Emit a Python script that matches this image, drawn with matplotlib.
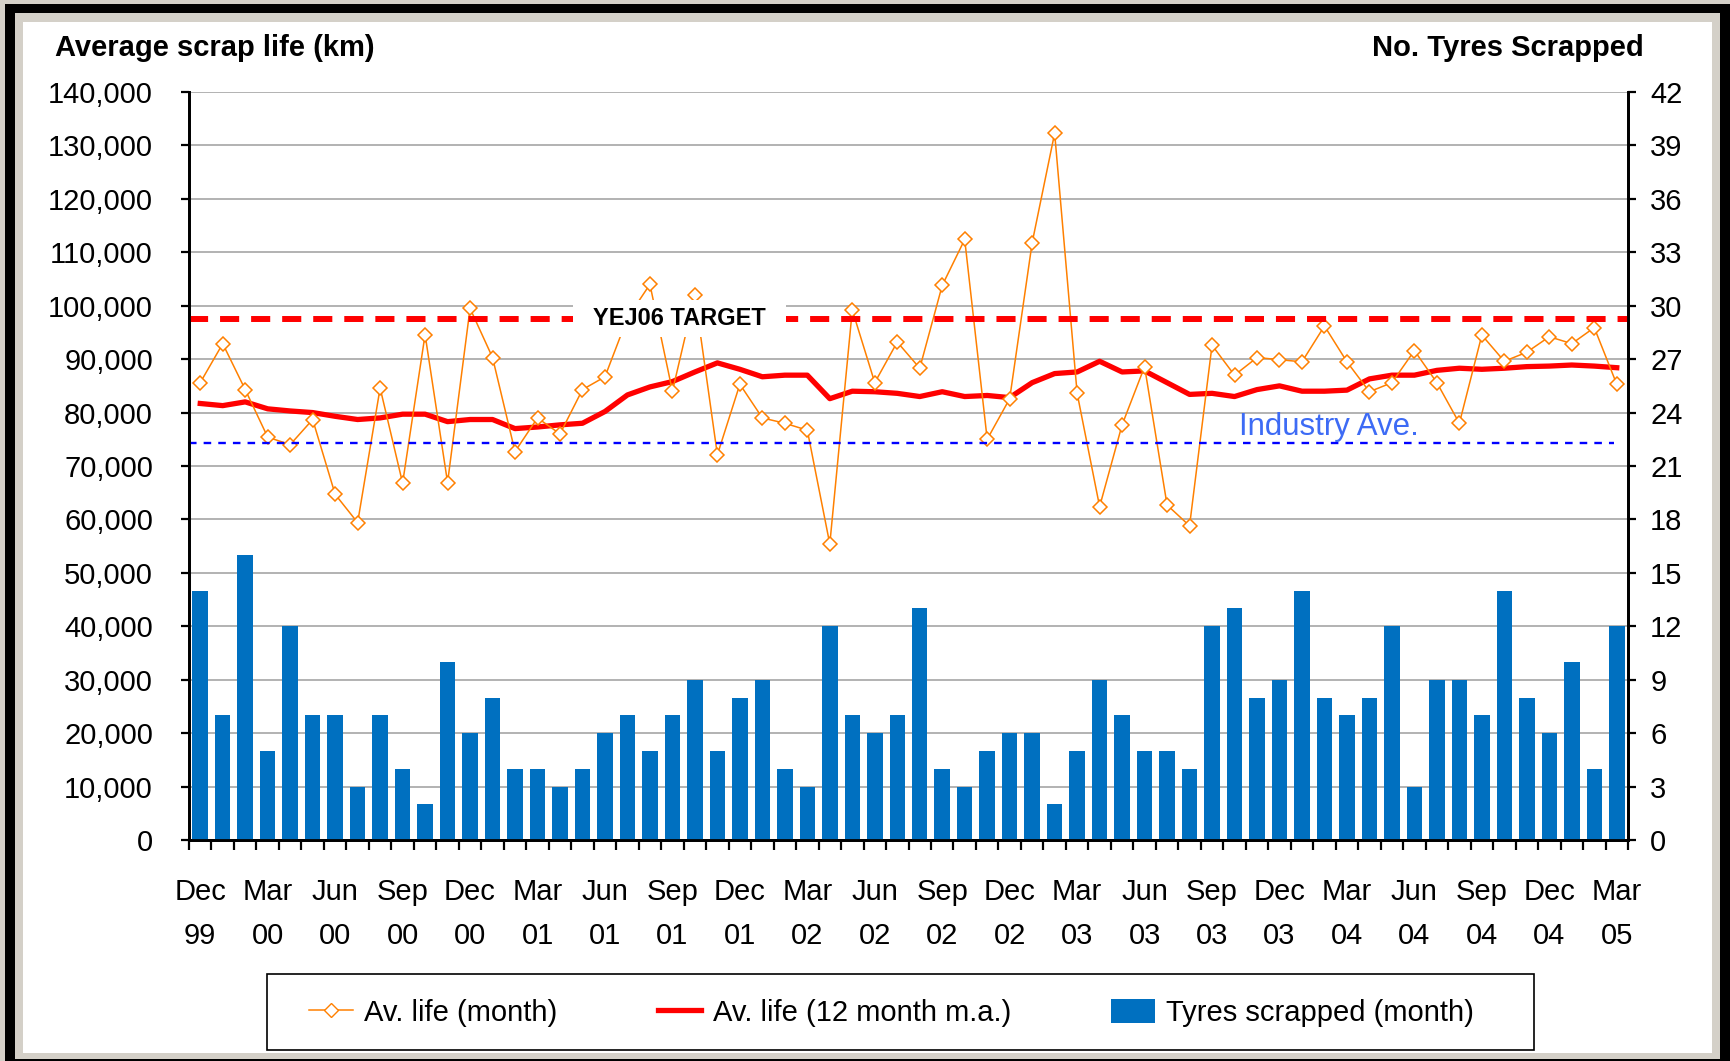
import matplotlib.pyplot as plt
from matplotlib.lines import Line2D
from matplotlib.patches import Rectangle, Patch

plt.rcParams['font.family'] = ['Liberation Sans', 'DejaVu Sans']

# monthly data, Dec 99 .. Mar 05
av_life_month = [85600, 92900, 84300, 75400, 74000, 78700, 64700, 59400, 84600, 66800,
                 94600, 66900, 99500, 90300, 72700, 79000, 76000, 84300, 86700, 97700,
                 104000, 84000, 102000, 72100, 85300, 79000, 78000, 76700, 55400, 99200,
                 85600, 93200, 88300, 103800, 112400, 75000, 82600, 111800, 132300, 83600,
                 62400, 77700, 88600, 62700, 58800, 92600, 87000, 90300, 89900, 89500,
                 96200, 89500, 83900, 85600, 91600, 85600, 78000, 94500, 89600, 91300,
                 94200, 92900, 95900, 85300]
av_life_ma = [81700, 81300, 82000, 80700, 80300, 80000, 79300, 78700, 79000, 79700,
              79700, 78300, 78700, 78700, 77000, 77300, 77700, 78000, 80200, 83300,
              84800, 85800, 87600, 89300, 88100, 86700, 87000, 87000, 82600, 84000,
              83900, 83600, 83000, 83900, 83000, 83200, 82800, 85600, 87300, 87600,
              89600, 87600, 87800, 85600, 83400, 83600, 83000, 84300, 85000, 84000,
              84000, 84200, 86300, 87000, 87000, 87900, 88300, 88100, 88300, 88600,
              88700, 88900, 88700, 88400]
tyres_scrapped = [14, 7, 16, 5, 12, 7, 7, 3, 7, 4, 2, 10, 6, 8, 4, 4, 3, 4,
                  6, 7, 5, 7, 9, 5, 8, 9, 4, 3, 12, 7, 6, 7, 13, 4, 3, 5,
                  6, 6, 2, 5, 9, 7, 5, 5, 4, 12, 13, 8, 9, 14, 8, 7, 8, 12,
                  3, 9, 9, 7, 14, 8, 6, 10, 4, 12]
quarter_labels = ["Dec\n99", "Mar\n00", "Jun\n00", "Sep\n00", "Dec\n00", "Mar\n01",
                  "Jun\n01", "Sep\n01", "Dec\n01", "Mar\n02", "Jun\n02", "Sep\n02",
                  "Dec\n02", "Mar\n03", "Jun\n03", "Sep\n03", "Dec\n03", "Mar\n04",
                  "Jun\n04", "Sep\n04", "Dec\n04", "Mar\n05"]
target = 97600
industry_ave = 74300

W, H = 1730, 1061
FS = 21
fig = plt.figure(figsize=(W / 100, H / 100), dpi=100)
fig.patch.set_facecolor('#D4D0C8')


def frame_rect(x0, y0, x1, y1, fc, ec='none', lw=0, z=-10):
    fig.patches.append(Rectangle((x0 / W, 1 - y1 / H), (x1 - x0) / W, (y1 - y0) / H,
                                 transform=fig.transFigure, facecolor=fc,
                                 edgecolor=ec, lw=lw, zorder=z))


# window-like frame
frame_rect(5, 4, 1730, 1061, 'black')
frame_rect(15, 13, 1720, 1059, '#D4D0C8')
frame_rect(23, 22, 1712, 1053, 'white')
# legend box
frame_rect(267, 974, 1534, 1050, 'white', ec='black', lw=1.2, z=1)

ax = fig.add_axes([189 / W, 1 - 840 / H, (1628 - 189) / W, (840 - 92) / H])
ax.patch.set_visible(False)
ax2 = ax.twinx()

x = list(range(len(av_life_month)))

# bars on right axis
ax2.bar(x, tyres_scrapped, width=0.69, color='#0070C0', zorder=2)
ax2.set_ylim(0, 42)
ax2.set_yticks(range(0, 43, 3))

# lines on left axis
ax.plot(x, av_life_ma, color='#FF0000', lw=3.8, zorder=3, solid_joinstyle='round')
ax.plot(x, av_life_month, color='#FF8000', lw=1.1, marker='D', ms=6.8,
        mfc='white', mec='#FF8000', mew=1.1, zorder=4)
ax.axhline(target, color='#FF0000', lw=4.3, dashes=(3.2, 2.0), zorder=5)
ax.axhline(industry_ave, xmax=0.99, color='#0000FF', lw=1.7, dashes=(3.2, 3.0), zorder=5)

ax.text(21.3, target, "  YEJ06 TARGET  ", fontsize=17, fontweight='bold',
        ha='center', va='center', zorder=6,
        bbox=dict(boxstyle='square,pad=0.3', fc='white', ec='none'))
ax.text(46.2, 75800, "Industry Ave.", fontsize=22.5, color='#3D6BF5',
        ha='left', va='baseline', zorder=6)

ax.set_ylim(0, 140000)
ax.set_yticks(range(0, 140001, 10000))
ax.set_yticklabels([f"{v:,}" for v in range(0, 140001, 10000)])
ax.set_xlim(-0.5, len(x) - 0.5)
ax.set_xticks(x[::3])
ax.set_xticklabels(quarter_labels, linespacing=1.75)
ax.set_xticks([i - 0.5 for i in range(len(x) + 1)], minor=True)
ax.grid(axis='y', color='#A6A6A6', lw=1.2)
ax.set_axisbelow(True)

ax.tick_params(axis='x', which='major', length=0, pad=27, labelsize=FS)
ax.tick_params(axis='x', which='minor', length=7, width=1.6, direction='out')
ax.tick_params(axis='y', length=6, width=1.6, pad=20, labelsize=FS)
ax2.tick_params(axis='y', length=6, width=1.6, pad=10, labelsize=FS)

for a in (ax, ax2):
    a.spines['top'].set_visible(False)
    for s in ('left', 'right', 'bottom'):
        a.spines[s].set_linewidth(2)
        a.spines[s].set_color('black')

fig.text(55 / W, 1 - 56 / H, "Average scrap life (km)", fontsize=FS, fontweight='bold',
         ha='left', va='baseline')
fig.text(1644 / W, 1 - 56 / H, "No. Tyres Scrapped", fontsize=FS, fontweight='bold',
         ha='right', va='baseline')

handles = [
    Line2D([], [], color='#FF8000', lw=1.1, marker='D', ms=6.8, mfc='white', mec='#FF8000'),
    Line2D([], [], color='#FF0000', lw=3.8),
    Patch(facecolor='#0070C0'),
]
labels = ["Av. life (month)", "Av. life (12 month m.a.)", "Tyres scrapped (month)"]
leg = fig.legend(handles, labels, ncol=3, loc='center left',
                 bbox_to_anchor=(309 / W, 1 - 1013 / H), fontsize=FS, frameon=False,
                 handlelength=1.5, handleheight=0.85, handletextpad=0.38,
                 columnspacing=3.45, borderpad=0, borderaxespad=0)
leg.set_zorder(2)

fig.savefig("out.png", dpi=100, facecolor=fig.get_facecolor())
